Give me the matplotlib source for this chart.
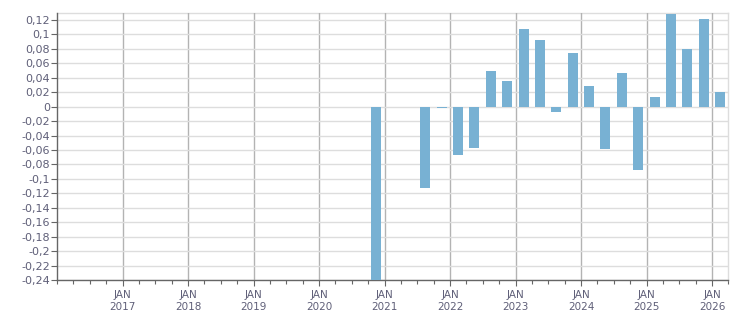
import matplotlib
matplotlib.use("Agg")
import matplotlib.pyplot as plt
import matplotlib.dates as mdates
from matplotlib.ticker import FixedLocator, FuncFormatter
import datetime as dt

quarters = ["2020Q4", "2021Q3", "2021Q4", "2022Q1", "2022Q2", "2022Q3", "2022Q4",
            "2023Q1", "2023Q2", "2023Q3", "2023Q4", "2024Q1", "2024Q2", "2024Q3",
            "2024Q4", "2025Q1", "2025Q2", "2025Q3", "2025Q4", "2026Q1"]
values = [-0.26, -0.113, -0.002, -0.067, -0.057, 0.050, 0.035,
          0.1075, 0.092, -0.007, 0.074, 0.029, -0.058, 0.046,
          -0.088, 0.014, 0.128, 0.080, 0.121, 0.021]
ytick_values = [0.12, 0.1, 0.08, 0.06, 0.04, 0.02, 0, -0.02, -0.04, -0.06, -0.08,
                -0.1, -0.12, -0.14, -0.16, -0.18, -0.2, -0.22, -0.24]
xtick_years = list(range(2017, 2027))

def mid_quarter(q):
    y = int(q[:4]); n = int(q[-1])
    start = dt.datetime(y, 3 * (n - 1) + 1, 1)
    return start + dt.timedelta(days=45)

xs = [mdates.date2num(mid_quarter(q)) for q in quarters]

fig = plt.figure(figsize=(7.51, 3.13), dpi=100)
ax = fig.add_axes([57 / 751, 1 - 280 / 313, (728.3 - 57) / 751, (280 - 13) / 313])

ax.bar(xs, values, width=56, color="#78b1d3", zorder=3)

ax.set_xlim(mdates.date2num(dt.datetime(2016, 1, 1)), mdates.date2num(dt.datetime(2026, 4, 1)))
ax.set_ylim(-0.24, 0.1297)

lab_col = "#5f5f78"
ax.yaxis.set_major_locator(FixedLocator(ytick_values))
ax.yaxis.set_major_formatter(FuncFormatter(lambda v, p: ("%g" % round(v, 2)).replace(".", ",")))
major = [mdates.date2num(dt.datetime(y, 1, 1)) for y in xtick_years]
ax.xaxis.set_major_locator(FixedLocator(major))
ax.set_xticklabels(["JAN\n%d" % y for y in xtick_years])
ax.xaxis.set_minor_locator(mdates.MonthLocator(bymonth=[1, 4, 7, 10]))

ax.tick_params(axis="y", which="major", length=4, width=0.8, color="#666666",
               labelsize=8, labelcolor=lab_col, pad=1)
ax.tick_params(axis="x", which="major", length=4, width=0.8, color="#666666",
               labelsize=7.5, labelcolor=lab_col, pad=3)
ax.tick_params(axis="x", which="minor", length=3, width=0.8, color="#666666")
for lab in ax.get_xticklabels():
    lab.set_linespacing(1.3)

ax.grid(axis="y", color="#dddddd", linewidth=1, zorder=0)
ax.grid(axis="x", which="major", color="#b3b3b3", linewidth=1, zorder=0)

ax.spines["left"].set_color("#666666")
ax.spines["bottom"].set_color("#666666")
ax.spines["top"].set_color("#dddddd")
ax.spines["right"].set_color("#dddddd")
for s in ax.spines.values():
    s.set_linewidth(1)
ax.spines["top"].set_zorder(1)

fig.savefig("out.png", dpi=100)
